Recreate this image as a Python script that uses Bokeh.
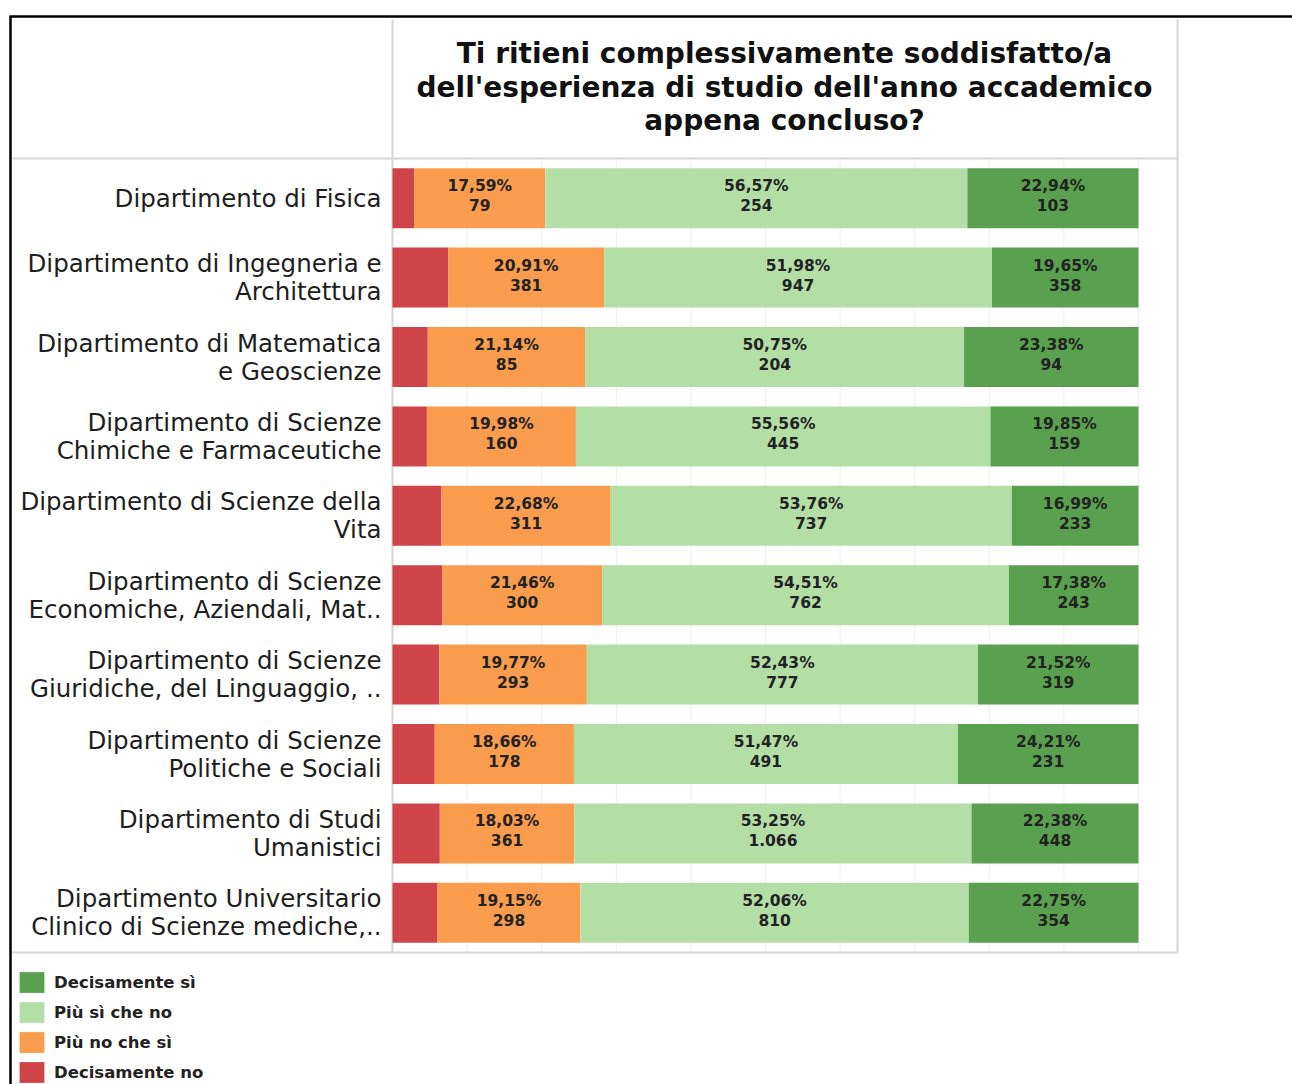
import pandas as pd
from bokeh.plotting import figure
from bokeh.models import ColumnDataSource, Range1d, Legend, LegendItem
from bokeh.core.properties import value
from bokeh.embed import file_html
from bokeh.resources import INLINE

# ---------------- data ----------------
title_lines = [
    "Ti ritieni complessivamente soddisfatto/a",
    "dell'esperienza di studio dell'anno accademico",
    "appena concluso?",
]
dept_labels = [
    "Dipartimento di Fisica",
    "Dipartimento di Ingegneria e\nArchitettura",
    "Dipartimento di Matematica\ne Geoscienze",
    "Dipartimento di Scienze\nChimiche e Farmaceutiche",
    "Dipartimento di Scienze della\nVita",
    "Dipartimento di Scienze\nEconomiche, Aziendali, Mat..",
    "Dipartimento di Scienze\nGiuridiche, del Linguaggio, ..",
    "Dipartimento di Scienze\nPolitiche e Sociali",
    "Dipartimento di Studi\nUmanistici",
    "Dipartimento Universitario\nClinico di Scienze mediche,..",
]
categories = ["Decisamente no", "Più no che sì", "Più sì che no", "Decisamente sì"]
colors = ["#CF4449", "#F99C4D", "#B3DFA7", "#59A14F"]

pct_decisamente_no = [2.90, 7.46, 4.73, 4.61, 6.57, 6.65, 6.28, 5.66, 6.34, 6.04]
pct_piu_no = [17.59, 20.91, 21.14, 19.98, 22.68, 21.46, 19.77, 18.66, 18.03, 19.15]
pct_piu_si = [56.57, 51.98, 50.75, 55.56, 53.76, 54.51, 52.43, 51.47, 53.25, 52.06]
pct_decisamente_si = [22.94, 19.65, 23.38, 19.85, 16.99, 17.38, 21.52, 24.21, 22.38, 22.75]

n_piu_no = [79, 381, 85, 160, 311, 300, 293, 178, 361, 298]
n_piu_si = [254, 947, 204, 445, 737, 762, 777, 491, 1066, 810]
n_decisamente_si = [103, 358, 94, 159, 233, 243, 319, 231, 448, 354]

grid_ticks = [0, 10, 20, 30, 40, 50, 60, 70, 80, 90, 100]

# ---------------- layout constants ----------------
W, H = 1292, 1084
OFF = 0                # page offset of the canvas
PX_PER_PCT = 7.46      # pixels per percentage point
ROW_PX = 79.4          # pixels per row
ORIGIN_X = 392         # page x of 0 %
ROW0_Y = 197.7         # page y of first row centre


def cx(px):  # page pixel -> data x
    return (px - ORIGIN_X) / PX_PER_PCT


def cy(py):  # page pixel -> data y (row units)
    return (py - ROW0_Y) / ROW_PX


x_range = Range1d(cx(OFF), cx(OFF + W))
y_range = Range1d(cy(OFF + H), cy(OFF))  # rows grow downward

p = figure(width=W, height=H, x_range=x_range, y_range=y_range,
           output_backend="svg", toolbar_location=None, title=None,
           x_axis_location=None, y_axis_location=None, min_border=0)
p.grid.visible = False
p.outline_line_color = None
p.background_fill_color = "white"
p.border_fill_color = "white"

rows = list(range(len(dept_labels)))
pane_top, pane_bottom = rows[0] - 0.5, rows[-1] + 0.5

# light vertical grid lines inside the pane
p.segment(x0=grid_ticks, x1=grid_ticks, y0=[pane_top] * len(grid_ticks),
          y1=[pane_bottom] * len(grid_ticks), line_color="#efefef", line_width=1)

# table borders (gray)
p.segment(x0=[cx(12), cx(12), 0, cx(1177)],
          x1=[cx(1177), cx(1177), 0, cx(1177)],
          y0=[pane_top, pane_bottom, cy(19), cy(19)],
          y1=[pane_top, pane_bottom, pane_bottom, pane_bottom],
          line_color="#d6d6d6", line_width=2)

# black outer frame (top and left)
p.segment(x0=[cx(9), cx(10)], x1=[cx(1300), cx(10)],
          y0=[cy(16), cy(16)], y1=[cy(16), cy(1090)],
          line_color="#000000", line_width=2.5)

# ---------------- bars ----------------
df = pd.DataFrame({
    "row": rows,
    "dec_no": pct_decisamente_no,
    "piu_no": pct_piu_no,
    "piu_si": pct_piu_si,
    "dec_si": pct_decisamente_si,
})
src = ColumnDataSource(df)
stackers = ["dec_no", "piu_no", "piu_si", "dec_si"]
BAR_H = 60 / ROW_PX
bars = p.hbar_stack(stackers, y="row", height=BAR_H, fill_color=colors,
                    line_color=None, source=src)

# ---------------- value labels ----------------
def fmt_pct(v):
    return f"{v:.2f}".replace(".", ",") + "%"


def fmt_n(n):
    return f"{n:,}".replace(",", ".")


lab = {"x": [], "y1": [], "y2": [], "pct": [], "n": []}
left = df["dec_no"]
for col, counts in [("piu_no", n_piu_no), ("piu_si", n_piu_si), ("dec_si", n_decisamente_si)]:
    centers = left + df[col] / 2
    for i in rows:
        lab["x"].append(float(centers[i]))
        lab["y1"].append(i - 12.0 / ROW_PX)
        lab["y2"].append(i + 7.0 / ROW_PX)
        lab["pct"].append(fmt_pct(df[col][i]))
        lab["n"].append(fmt_n(counts[i]))
    left = left + df[col]
lab_src = ColumnDataSource(lab)
for ycol, tcol in [("y1", "pct"), ("y2", "n")]:
    p.text(x="x", y=ycol, text=tcol, source=lab_src, text_align="center",
           text_baseline="middle", text_font=value("DejaVu Sans"),
           text_font_style="bold", text_font_size="15.5px", text_color="#222222")

# ---------------- category labels ----------------
cat = {"x": [], "y": [], "t": []}
LINE_OFF = 14 / ROW_PX
for i, lbl in enumerate(dept_labels):
    parts = lbl.split("\n")
    if len(parts) == 1:
        offs = [0.0]
    else:
        offs = [-LINE_OFF, LINE_OFF]
    for part, off in zip(parts, offs):
        cat["x"].append(cx(381))
        cat["y"].append(i + off)
        cat["t"].append(part)
p.text(x="x", y="y", text="t", source=ColumnDataSource(cat), text_align="right",
       text_baseline="middle", text_font=value("DejaVu Sans"),
       text_font_size="24.5px", text_color="#1e1e1e")

# ---------------- title ----------------
p.text(x=[cx(784)] * 3, y=[cy(53), cy(87), cy(120)], text=title_lines,
       text_align="center", text_baseline="middle", text_font=value("DejaVu Sans"),
       text_font_style="bold", text_font_size="28px", text_color="#111111")

# ---------------- legend ----------------
items = [LegendItem(label=categories[k], renderers=[bars[k]]) for k in [3, 2, 1, 0]]
legend = Legend(items=items, location=(16, -1), orientation="vertical",
                glyph_width=31, glyph_height=26, label_height=26, spacing=4,
                label_standoff=7, padding=0, margin=0,
                border_line_color=None, background_fill_alpha=0,
                label_text_font="DejaVu Sans", label_text_font_style="bold",
                label_text_font_size="16.5px", label_text_color="#222222")
p.add_layout(legend)

open("out.html", "w").write(file_html(p, INLINE))
